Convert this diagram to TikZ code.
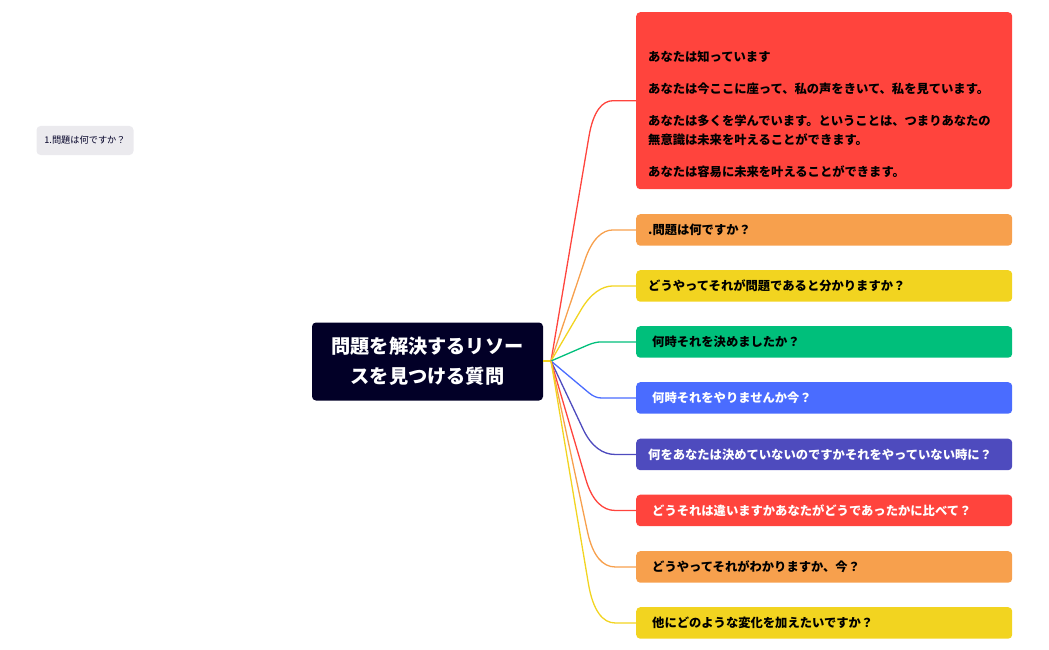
\documentclass[tikz,border=0pt]{standalone}
\usepackage{fontspec}
\usetikzlibrary{calc}
\setmainfont{Noto Sans CJK JP}
\definecolor{mapred}{HTML}{FF443D}
\definecolor{maporange}{HTML}{F7A04D}
\definecolor{mapyellow}{HTML}{F2D420}
\definecolor{mapgreen}{HTML}{00BF7B}
\definecolor{mapblue}{HTML}{4A6CFF}
\definecolor{mapindigo}{HTML}{4E4BBE}
\definecolor{mapdark}{HTML}{020027}
\definecolor{mapgrey}{HTML}{EBEAEE}
\tikzset{
	topic/.style={rounded corners=4pt, anchor=north west, minimum width=376pt, text width=352pt, inner xsep=12pt, inner ysep=0pt, align=left, font=\fontsize{12.3pt}{19pt}\selectfont\bfseries},
	branch/.style={line width=1.3pt},
}
\begin{document}
\begin{tikzpicture}[x=1pt, y=-1pt]
	\useasboundingbox (0,0) rectangle (1049,650);
	\path (551,361) coordinate (H);
	\node[fill=mapdark, text=white, rounded corners=4pt, minimum width=231pt, minimum height=78pt, text width=200pt, align=center, inner sep=0pt, font=\fontsize{19.2pt}{30pt}\selectfont\bfseries] (R) at (427.5,361.5) {問題を解決するリソー\\スを見つける質問};
	\node[fill=mapgrey, text=mapdark, rounded corners=4pt, minimum width=97pt, minimum height=29pt, inner sep=0pt, font=\fontsize{9.2pt}{11pt}\selectfont] (N) at (85,140.5) {1.問題は何ですか？};
	\node[topic, fill=mapred, minimum height=177pt, text=black] (A) at (636,12) {\mbox{}\\[18pt]あなたは知っています\\[13pt]あなたは今ここに座って、私の声をきいて、私を見ています。\\[13pt]あなたは多くを学んでいます。ということは、つまりあなたの\\無意識は未来を叶えることができます。\\[13pt]あなたは容易に未来を叶えることができます。};
	\node[topic, fill=maporange, minimum height=31.5pt, text=black] (B) at (636,214) {.問題は何ですか？};
	\node[topic, fill=mapyellow, minimum height=31.5pt, text=black] (C) at (636,270) {どうやってそれが問題であると分かりますか？};
	\node[topic, fill=mapgreen, minimum height=31.5pt, text=black] (D) at (636,326) {\hspace*{4pt}何時それを決めましたか？};
	\node[topic, fill=mapblue, minimum height=31.5pt, text=white] (E) at (636,382) {\hspace*{4pt}何時それをやりませんか今？};
	\node[topic, fill=mapindigo, minimum height=31.5pt, text=white] (F) at (636,438.5) {何をあなたは決めていないのですかそれをやっていない時に？};
	\node[topic, fill=mapred, minimum height=31.5pt, text=white] (G) at (636,494.5) {\hspace*{4pt}どうそれは違いますかあなたがどうであったかに比べて？};
	\node[topic, fill=maporange, minimum height=31.5pt, text=black] (I) at (636,551) {\hspace*{4pt}どうやってそれがわかりますか、今？};
	\node[topic, fill=mapyellow, minimum height=31.5pt, text=black] (J) at (636,607) {\hspace*{4pt}他にどのような変化を加えたいですか？};
	\draw[branch, mapyellow] (R.east|-H) -- (H);
	\foreach \n/\c/\r/\s in {A/mapred/36/18,B/maporange/32/18,C/mapyellow/28/18,D/mapgreen/8/6,E/mapblue/8/6,F/mapindigo/28/20,G/mapred/32/20,I/maporange/36/20,J/mapyellow/40/20}
		\draw[branch, \c] (H) -- ($($(\n.west)+(-41,0)$)!\r pt!(H)$) .. controls ($($(\n.west)+(-41,0)$)!0.3*\r pt!(H)$) and ($(\n.west)+(-41+0.4*\s,0)$) .. ($(\n.west)+(-41+\s,0)$) -- (\n.west);
\end{tikzpicture}
\end{document}
